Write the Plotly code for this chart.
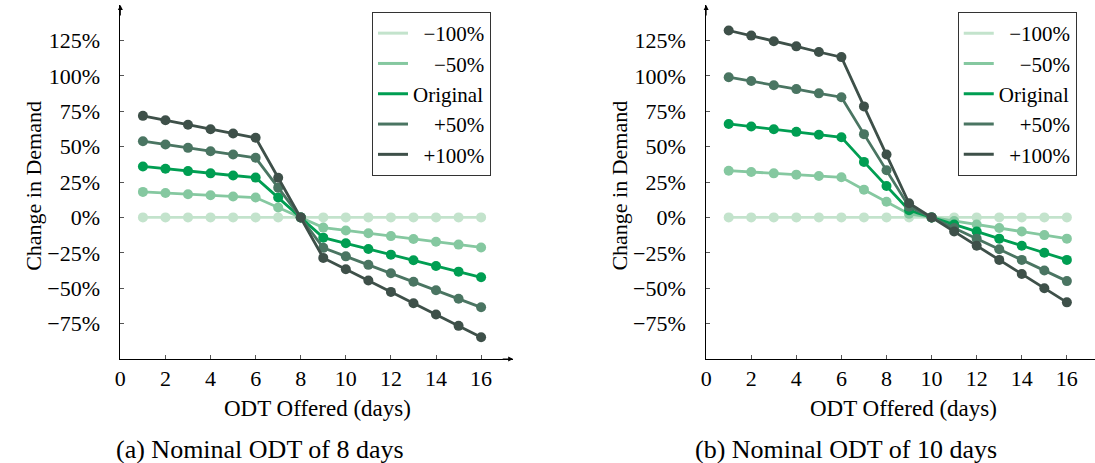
import plotly.graph_objects as go

days = list(range(1, 17))
series_names = ["\u2212100%", "\u221250%", "Original", "+50%", "+100%"]
colors = ["#c3e3cc", "#85c8a0", "#009e52", "#4a7562", "#3e5049"]
# figure spaces to right-align legend labels like the reference
legend_pad = ["\u2007", "\u2007\u2007", "", "\u2007\u2007", "\u2007"]

# Nominal ODT of 8 days
left_m100 = [0, 0, 0, 0, 0, 0, 0, 0, 0, 0, 0, 0, 0, 0, 0, 0]
left_m50 = [18, 17.2, 16.4, 15.6, 14.8, 14, 7, 0, -7.2, -9.2, -11.2, -13.2, -15.2, -17.2, -19.2, -21.2]
left_orig = [36, 34.3, 32.7, 31.1, 29.6, 28.1, 14, 0, -14.3, -18.3, -22.3, -26.3, -30.3, -34.3, -38.3, -42.3]
left_p50 = [53.8, 51.5, 49.1, 46.7, 44.4, 42.1, 21, 0, -21.5, -27.5, -33.5, -39.5, -45.5, -51.5, -57.5, -63.5]
left_p100 = [71.7, 68.6, 65.4, 62.3, 59.2, 56.2, 28, 0, -28.6, -36.6, -44.6, -52.6, -60.6, -68.6, -76.6, -84.6]

# Nominal ODT of 10 days
right_m100 = [0, 0, 0, 0, 0, 0, 0, 0, 0, 0, 0, 0, 0, 0, 0, 0]
right_m50 = [33, 32.1, 31.1, 30.2, 29.2, 28.3, 19.6, 11.1, 2.5, 0, -2.5, -5, -7.5, -10, -12.5, -15]
right_orig = [66, 64.2, 62.2, 60.4, 58.4, 56.6, 39.2, 22.2, 5, 0, -5, -10, -15, -20, -25, -30]
right_p50 = [99, 96.3, 93.3, 90.6, 87.6, 84.9, 58.8, 33.3, 7.5, 0, -7.5, -15, -22.5, -30, -37.5, -45]
right_p100 = [132, 128.4, 124.4, 120.8, 116.8, 113.2, 78.4, 44.4, 10, 0, -10, -20, -30, -40, -50, -60]

left_series = [left_m100, left_m50, left_orig, left_p50, left_p100]
right_series = [right_m100, right_m50, right_orig, right_p50, right_p100]

x_ticks = list(range(0, 17, 2))
y_ticks = [-75, -50, -25, 0, 25, 50, 75, 100, 125]
y_tick_labels = [("\u2212" if v < 0 else "") + f"{abs(v)}%" for v in y_ticks]

x_title = "ODT Offered (days)"
y_title = "Change in Demand"
captions = ["(a) Nominal ODT of 8 days", "(b) Nominal ODT of 10 days"]

FONT = "Liberation Serif"
W, H = 1095, 463

fig = go.Figure()

panels = [
    dict(series=left_series, xa="x", ya="y", legend="legend", x0=115, x1=510),
    dict(series=right_series, xa="x2", ya="y2", legend="legend2", x0=704, x1=1095),
]
px_per_day = 22.67

for p in panels:
    for name, col, ys in zip(series_names, colors, p["series"]):
        fig.add_trace(go.Scatter(
            x=days, y=ys, mode="lines+markers", name=name,
            line=dict(color=col, width=2.8),
            marker=dict(color=col, size=10),
            xaxis=p["xa"], yaxis=p["ya"], showlegend=False,
        ))
    for name, pad, col in zip(series_names, legend_pad, colors):
        fig.add_trace(go.Scatter(
            x=[None], y=[None], mode="lines", name=pad + name,
            line=dict(color=col, width=3),
            xaxis=p["xa"], yaxis=p["ya"], showlegend=True,
            legend=p["legend"],
        ))

ydom = [(H - 359) / H, (H - 5) / H]
axis_common = dict(showgrid=False, zeroline=False, showline=True, linecolor="black",
                   linewidth=1, ticks="inside", ticklen=4, tickcolor="#555",
                   tickfont=dict(family=FONT, size=22, color="black"))

layout = dict(
    width=W, height=H, margin=dict(l=0, r=0, t=0, b=0),
    paper_bgcolor="white", plot_bgcolor="white",
    font=dict(family=FONT, size=21, color="black"),
)
for j, p in enumerate(panels):
    sfx = "" if j == 0 else "2"
    xr = (p["x1"] - p["x0"]) / px_per_day
    layout["xaxis" + sfx] = dict(domain=[p["x0"] / W, p["x1"] / W], range=[0, xr],
                                 tickvals=x_ticks, anchor="y" + sfx, **axis_common)
    layout["yaxis" + sfx] = dict(domain=ydom, range=[-100, 150], tickvals=y_ticks,
                                 ticktext=y_tick_labels, anchor="x" + sfx,
                                 ticklabelstandoff=15, **axis_common)
    layout[p["legend"]] = dict(
        x=(p["x0"] + 253) / W, y=(H - 12) / H, xanchor="left", yanchor="top",
        bordercolor="#333", borderwidth=1, bgcolor="white",
        font=dict(family=FONT, size=21, color="black"), tracegroupgap=0,
        itemwidth=30,
    )
fig.update_layout(**layout)

ann = []
for j, p in enumerate(panels):
    sfx = "" if j == 0 else "2"
    ann.append(dict(x=0, y=150, xref="x" + sfx, yref="y" + sfx, ax=0, ay=12,
                    showarrow=True, arrowhead=2, arrowsize=1, arrowwidth=1, arrowcolor="black", text=""))
    if j == 0:
        xr = (p["x1"] - p["x0"]) / px_per_day
        ann.append(dict(x=xr, y=-100, xref="x", yref="y", ax=-12, ay=0,
                        showarrow=True, arrowhead=2, arrowsize=1, arrowwidth=1, arrowcolor="black", text=""))
    ann.append(dict(x=(p["x0"] + 198) / W, y=(H - 408) / H, xref="paper", yref="paper", text=x_title,
                    showarrow=False, font=dict(family=FONT, size=23), xanchor="center", yanchor="middle"))
    ann.append(dict(x=(p["x0"] - 88) / W, y=(H - 186) / H, xref="paper", yref="paper",
                    text=y_title, textangle=-90, showarrow=False, xanchor="center", yanchor="middle",
                    font=dict(family=FONT, size=22)))
cap_x = [255, 845]
for cx, c in zip(cap_x, captions):
    ann.append(dict(x=cx / W, y=(H - 449) / H, xref="paper", yref="paper", text=c,
                    showarrow=False, font=dict(family=FONT, size=26), xanchor="center", yanchor="middle"))
fig.update_layout(annotations=ann)

fig.write_html("out.html")
